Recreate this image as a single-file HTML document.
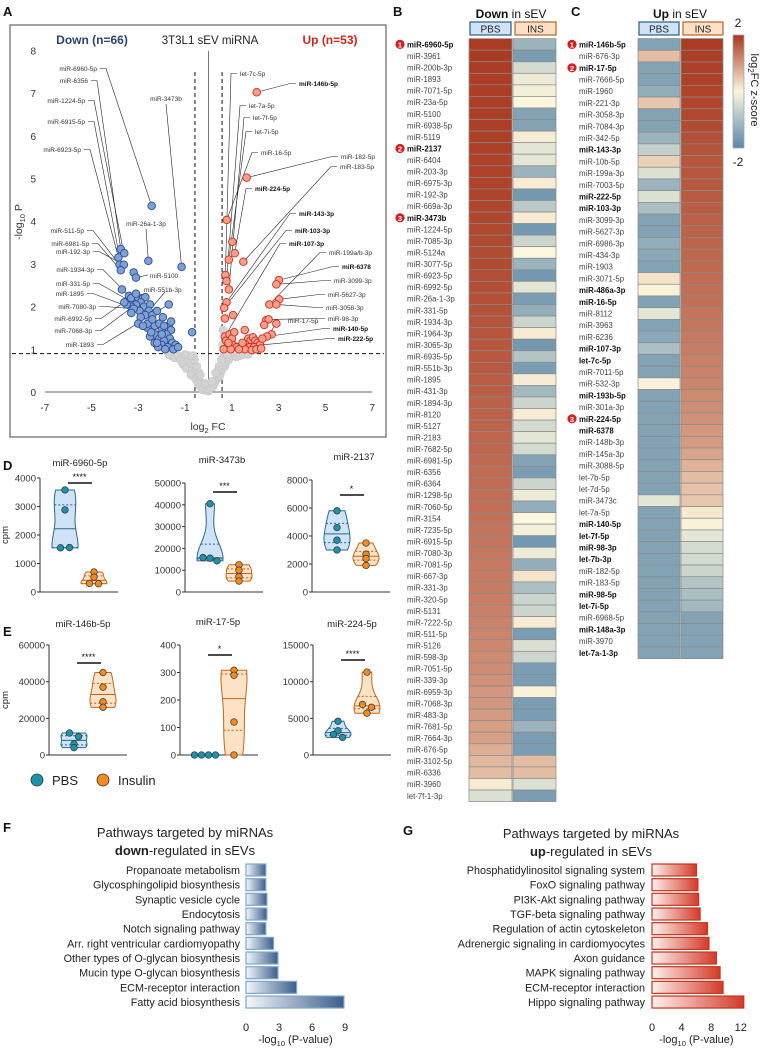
<!DOCTYPE html>
<html><head><meta charset="utf-8">
<style>
html,body{margin:0;padding:0;background:#fff;}
svg{display:block;font-family:"Liberation Sans",Arial,sans-serif;}
</style></head>
<body>
<svg id="fig" width="766" height="1050" viewBox="0 0 766 1050" xmlns="http://www.w3.org/2000/svg"></svg>
<script>
// ===== Volcano data (panel A) =====
const downPts = [[-2.43,4.36],[-1.15,2.93],[-2.57,3.07],[-3.75,3.35],[-3.6,3.25],[-3.85,3.15],[-3.8,2.98],[-3.62,2.98],[-3.75,2.85],[-3.2,2.8],[-3.1,2.68],[-3.7,2.4],[-3.4,2.25],[-3.3,2.2],[-3.0,2.2],[-2.8,2.2],[-2.7,2.22],[-2.9,2.1],[-3.1,2.05],[-3.3,2.0],[-2.75,2.0],[-2.5,2.05],[-2.55,1.9],[-2.95,1.9],[-3.2,1.95],[-3.3,1.85],[-2.7,1.8],[-2.4,1.8],[-2.9,1.75],[-1.7,2.05],[-3.0,1.6],[-2.6,1.5],[-2.3,1.55],[-2.1,1.6],[-1.7,1.55],[-1.6,1.45],[-2.0,1.45],[-2.3,1.35],[-1.8,1.35],[-2.5,1.3],[-2.1,1.25],[-1.65,1.25],[-1.9,1.2],[-2.3,1.15],[-2.0,1.1],[-1.55,1.15],[-1.75,1.05],[-1.4,1.1],[-2.15,1.05],[-1.85,1.0],[-1.5,1.0],[-0.7,1.4],[-2.6,1.6],[-2.8,1.55],[-2.4,1.7],[-2.2,1.9],[-1.95,1.75],[-3.5,2.05],[-3.6,2.1],[-2.0,1.35],[-1.6,1.65],[-2.2,1.15],[-1.3,1.05],[-2.45,1.4],[-1.9,1.55],[-3.1,2.3]];
const upPts = [[2.06,7.02],[1.63,5.02],[0.78,4.03],[1.02,3.52],[1.12,3.25],[0.87,3.1],[1.49,3.05],[0.72,2.74],[0.77,2.6],[0.87,2.4],[3.01,2.62],[2.9,2.52],[3.02,2.17],[2.6,2.05],[2.9,2.05],[0.77,2.1],[0.67,1.97],[1.05,1.8],[0.7,1.72],[2.46,1.68],[2.57,1.7],[2.9,1.6],[2.38,1.57],[1.55,1.45],[2.7,1.35],[2.5,1.3],[0.7,1.3],[0.75,1.2],[0.9,1.35],[1.0,1.25],[1.1,1.4],[1.05,1.1],[0.8,1.05],[1.2,1.05],[0.65,1.0],[1.7,1.25],[1.8,1.2],[1.9,1.28],[2.0,1.2],[2.1,1.15],[1.6,1.1],[1.75,1.05],[1.95,1.05],[2.2,1.1],[2.3,1.25],[1.55,1.0],[1.85,0.98],[2.05,1.0],[2.25,1.02],[0.95,1.0],[1.3,1.0],[0.85,1.15],[1.45,1.15]];
const nsPts = [[-1.6,0.85],[-1.45,0.8],[-1.3,0.85],[-1.2,0.75],[-1.0,0.8],[-0.9,0.7],[-1.1,0.65],[-0.8,0.6],[-0.95,0.55],[-0.7,0.5],[-0.6,0.45],[-0.75,0.4],[-0.5,0.35],[-0.55,0.3],[-0.4,0.28],[-0.45,0.2],[-0.3,0.18],[-0.35,0.12],[-0.2,0.1],[-0.25,0.05],[-0.1,0.04],[0.0,0.02],[-0.05,0.08],[0.05,0.06],[0.1,0.1],[0.2,0.12],[0.25,0.2],[0.3,0.25],[0.35,0.3],[0.45,0.35],[0.5,0.4],[0.55,0.5],[0.6,0.55],[0.7,0.6],[0.75,0.7],[0.85,0.75],[0.9,0.8],[1.0,0.85],[1.2,0.82],[1.35,0.85],[1.5,0.88],[0.65,0.85],[0.55,0.75],[0.45,0.6],[-0.5,0.6],[-0.6,0.75],[-0.65,0.85],[-0.4,0.45],[0.4,0.5],[-0.15,0.2],[0.15,0.25],[-1.7,0.88],[1.7,0.88],[0.6,1.1],[0.62,1.45],[-0.35,0.4],[0.3,0.45],[-0.8,0.85],[0.8,0.88],[-1.0,0.88]];
const volTicksX = [-7,-5,-3,-1,1,3,5,7];
const volTicksY = [0,1,2,3,4,5,6,7,8];
const volLabels = [
 ["miR-6960-5p",97,71,"L",-2.43,4.36,0],["miR-6356",88,83,"L",-3.75,3.35,0],["miR-1224-5p",85,103,"L",-3.62,3.25,0],["miR-6915-5p",85,124,"L",-3.8,3.15,0],["miR-6923-5p",81,152,"L",-3.85,3.15,0],
 ["miR-511-5p",84,233,"L",-3.8,2.98,0],["miR-6981-5p",89,246,"L",-3.75,2.85,0],["miR-192-3p",90,254,"L",-3.62,2.98,0],["miR-1934-3p",94,272,"L",-3.3,2.2,0],["miR-331-5p",90,286,"L",-3.1,2.05,0],["miR-1895",84,296,"L",-2.95,1.9,0],["miR-7080-3p",96,309,"L",-3.2,1.95,0],["miR-6992-5p",92,321,"L",-3.1,2.3,0],["miR-7068-3p",92,333,"L",-2.7,2.22,0],["miR-1893",94,347,"L",-1.7,2.05,0],
 ["let-7c-5p",240,76,"R",0.72,2.74,0],["miR-146b-5p",299,86,"R",2.06,7.02,1],["let-7a-5p",249,108,"R",0.77,2.6,0],["let-7f-5p",253,120,"R",0.87,2.4,0],["let-7i-5p",255,134,"R",0.87,3.1,0],["miR-16-5p",261,155,"R",0.78,4.03,0],["miR-182-5p",341,159,"R",1.63,5.02,0],["miR-183-5p",340,169,"R",1.49,3.05,0],["miR-224-5p",255,191,"R",1.12,3.25,1],["miR-143-3p",299,216,"R",0.77,2.1,1],["miR-103-3p",295,233,"R",0.67,1.97,1],["miR-107-3p",289,246,"R",0.7,1.3,1],["miR-199a/b-3p",329,255,"R",2.6,2.05,0],["miR-6378",342,269,"R",3.01,2.62,1],["miR-3099-3p",334,283,"R",2.9,2.52,0],["miR-5627-3p",328,297,"R",3.02,2.17,0],["miR-3058-3p",326,310,"R",2.9,2.05,0],["miR-98-3p",328,321,"R",2.57,1.7,0],["miR-140-5p",333,331,"R",2.5,1.3,1],["miR-222-5p",338,341,"R",2.2,1.1,1]
];
// ===== Heatmap B =====
const bNames = ["miR-6960-5p","miR-3961","miR-200b-3p","miR-1893","miR-7071-5p","miR-23a-5p","miR-5100","miR-6938-5p","miR-5119","miR-2137","miR-6404","miR-203-3p","miR-6975-3p","miR-192-3p","miR-669a-3p","miR-3473b","miR-1224-5p","miR-7085-3p","miR-5124a","miR-3077-5p","miR-6923-5p","miR-6992-5p","miR-26a-1-3p","miR-331-5p","miR-1934-3p","miR-1964-3p","miR-3065-3p","miR-6935-5p","miR-551b-3p","miR-1895","miR-431-3p","miR-1894-3p","miR-8120","miR-5127","miR-2183","miR-7682-5p","miR-6981-5p","miR-6356","miR-6364","miR-1298-5p","miR-7060-5p","miR-3154","miR-7235-5p","miR-6915-5p","miR-7080-3p","miR-7081-5p","miR-667-3p","miR-331-3p","miR-320-5p","miR-5131","miR-7222-5p","miR-511-5p","miR-5126","miR-598-3p","miR-7051-5p","miR-339-3p","miR-6959-3p","miR-7068-3p","miR-483-3p","miR-7681-5p","miR-7664-3p","miR-676-5p","miR-3102-5p","miR-6336","miR-3960","let-7f-1-3p"];
const bPBS = [1.95,1.95,1.94,1.93,1.93,1.92,1.92,1.91,1.9,1.9,1.89,1.88,1.87,1.86,1.85,1.84,1.82,1.8,1.79,1.78,1.76,1.75,1.74,1.72,1.7,1.68,1.66,1.65,1.63,1.6,1.58,1.56,1.55,1.53,1.52,1.5,1.48,1.46,1.44,1.42,1.4,1.38,1.36,1.34,1.32,1.3,1.3,1.28,1.26,1.22,1.2,1.18,1.15,1.12,1.1,1.05,1.0,0.98,0.95,0.92,0.9,0.75,0.65,0.6,0.1,-0.4];
const bINS = [-1.2,-1.6,-0.5,-0.2,-0.1,0.0,-1.5,-1.5,0.1,-0.3,-0.3,-1.2,0.1,-1.7,-0.8,0.1,-1.7,-0.6,0.0,-1.2,-1.7,-0.3,-1.6,-1.3,-0.6,0.1,-1.7,-0.9,-1.6,0.1,-1.1,-0.6,0.1,-0.5,-0.3,-0.5,-1.5,-1.6,-0.6,-0.2,-1.3,0.0,-0.1,-1.7,-0.2,-1.3,0.2,-1.0,-0.6,-0.6,0.1,-1.6,-0.4,-0.6,-1.6,-1.6,0.05,-1.6,-1.6,-1.2,-1.6,-1.6,0.6,0.6,-0.4,-1.6];
const bBold = {"miR-6960-5p":1,"miR-2137":2,"miR-3473b":3};
// ===== Heatmap C =====
const cNames = ["miR-146b-5p","miR-676-3p","miR-17-5p","miR-7666-5p","miR-1960","miR-221-3p","miR-3058-3p","miR-7084-3p","miR-342-5p","miR-143-3p","miR-10b-5p","miR-199a-3p","miR-7003-5p","miR-222-5p","miR-103-3p","miR-3099-3p","miR-5627-3p","miR-6986-3p","miR-434-3p","miR-1903","miR-3071-5p","miR-486a-3p","miR-16-5p","miR-8112","miR-3963","miR-6236","miR-107-3p","let-7c-5p","miR-7011-5p","miR-532-3p","miR-193b-5p","miR-301a-3p","miR-224-5p","miR-6378","miR-148b-3p","miR-145a-3p","miR-3088-5p","let-7b-5p","let-7d-5p","miR-3473c","let-7a-5p","miR-140-5p","let-7f-5p","miR-98-3p","let-7b-3p","miR-182-5p","miR-183-5p","miR-98-5p","let-7i-5p","miR-6968-5p","miR-148a-3p","miR-3970","let-7a-1-3p"];
const cPBS = [-1.5,0.6,-1.5,-1.5,-1.3,0.5,-1.5,-1.5,-1.2,-0.7,0.4,-0.4,-1.2,-0.4,-1.0,-1.5,-1.5,-1.3,-1.4,-1.5,0.2,0.05,-1.5,-0.3,-1.5,-1.4,-1.0,-1.5,-1.5,0.05,-1.5,-1.5,-1.5,-1.5,-1.5,-1.5,-1.5,-1.5,-1.5,-0.3,-1.5,-1.5,-1.5,-1.5,-1.5,-1.5,-1.5,-1.5,-1.5,-1.5,-1.5,-1.5,-1.5];
const cINS = [1.95,1.92,1.9,1.88,1.86,1.84,1.82,1.78,1.74,1.7,1.68,1.66,1.64,1.62,1.6,1.57,1.54,1.52,1.5,1.47,1.44,1.42,1.4,1.36,1.33,1.3,1.27,1.24,1.2,1.17,1.13,1.1,1.05,1.0,0.95,0.85,0.7,0.6,0.55,0.5,0.15,0.05,-0.3,-0.5,-0.5,-0.6,-0.9,-1.0,-1.1,-1.5,-1.5,-1.5,-1.5];
const cBold = {"miR-146b-5p":1,"miR-17-5p":2,"miR-224-5p":3};
const cBoldNames = ["miR-146b-5p","miR-17-5p","miR-143-3p","miR-222-5p","miR-103-3p","miR-486a-3p","miR-16-5p","miR-107-3p","let-7c-5p","miR-193b-5p","miR-224-5p","miR-6378","miR-140-5p","let-7f-5p","miR-98-3p","let-7b-3p","miR-98-5p","let-7i-5p","miR-148a-3p","let-7a-1-3p"];
const bBoldNames = ["miR-6960-5p","miR-2137","miR-3473b"];
// ===== Violin data (D/E) =====
const vTitles = ["miR-6960-5p","miR-3473b","miR-2137","miR-146b-5p","miR-17-5p","miR-224-5p"];
const vPBS = [[3580,2880,1550,1560],[40500,15800,15500,14300],[5800,4600,3700,3000],[12000,10000,6000,4000],[0,0,0,0],[4600,3300,2800,2400]];
const vINS = [[700,520,300,290],[12500,10000,7000,5000],[3500,2700,2400,1900],[45000,37000,29000,26000],[308,290,120,0],[11300,6900,6500,5700]];
const vMax = [4000,50000,8000,60000,400,15000];
const vTicks = [[0,1000,2000,3000,4000],[0,10000,20000,30000,40000,50000],[0,2000,4000,6000,8000],[0,20000,40000,60000],[0,100,200,300,400],[0,5000,10000,15000]];
const vStars = ["****","***","*","****","*","****"];
// ===== Pathway bars (F/G) =====
const fCats = ["Propanoate metabolism","Glycosphingolipid biosynthesis","Synaptic vesicle cycle","Endocytosis","Notch signaling pathway","Arr. right ventricular cardiomyopathy","Other types of O-glycan biosynthesis","Mucin type O-glycan biosynthesis","ECM-receptor interaction","Fatty acid biosynthesis"];
const fVals = [1.8,1.8,1.9,1.9,1.8,2.5,2.9,2.9,4.6,8.9];
const fTicks = [0,3,6,9];
const gCats = ["Phosphatidylinositol signaling system","FoxO signaling pathway","PI3K-Akt signaling pathway","TGF-beta signaling pathway","Regulation of actin cytoskeleton","Adrenergic signaling in cardiomyocytes","Axon guidance","MAPK signaling pathway","ECM-receptor interaction","Hippo signaling pathway"];
const gVals = [6.0,6.2,6.3,6.5,7.5,7.7,8.7,9.2,9.6,12.4];
const gTicks = [0,4,8,12];

const NS="http://www.w3.org/2000/svg";
const svg=document.getElementById('fig');
function el(tag,attrs,parent){const e=document.createElementNS(NS,tag);for(const k in attrs)e.setAttribute(k,attrs[k]);(parent||svg).appendChild(e);return e;}
function txt(s,attrs,parent){const e=el('text',attrs,parent);e.textContent=s;return e;}

const defs=el('defs',{});
const gb=el('linearGradient',{id:'gBlue',x1:'0',x2:'1',y1:'0',y2:'0'},defs);
el('stop',{offset:'0','stop-color':'#f4f7fc'},gb);el('stop',{offset:'1','stop-color':'#3c5f8c'},gb);
const gr=el('linearGradient',{id:'gRed',x1:'0',x2:'1',y1:'0',y2:'0'},defs);
el('stop',{offset:'0','stop-color':'#fdf1ee'},gr);el('stop',{offset:'1','stop-color':'#d43a28'},gr);
const gc=el('linearGradient',{id:'gCbar',x1:'0',x2:'0',y1:'0',y2:'1'},defs);
el('stop',{offset:'0','stop-color':'#a8371e'},gc);el('stop',{offset:'0.5','stop-color':'#fbf6dd'},gc);el('stop',{offset:'1','stop-color':'#5b87a8'},gc);

[["A",3,16],["B",393,16],["C",571,16],["D",3,470],["E",3,636],["F",3,832],["G",403,835]].forEach(l=>{
 const t=txt(l[0],{x:l[1],y:l[2],'font-size':13,'font-weight':'bold',fill:'#111'});
 
 
});

// ===== Panel A volcano =====
const gA=el('g',{});


el('rect',{x:10,y:25,width:376,height:412,fill:'none',stroke:'#444','stroke-width':1},gA);
const vx=fc=>208.5+fc*23.4, vy=p=>392-p*42.7;
el('line',{x1:45,x2:372,y1:392,y2:392,stroke:'#666','stroke-width':1},gA);
el('line',{x1:208.5,x2:208.5,y1:51,y2:392,stroke:'#555','stroke-width':0.8},gA);
el('line',{x1:vx(-0.58),x2:vx(-0.58),y1:72,y2:400,stroke:'#111','stroke-width':1,'stroke-dasharray':'4,3'},gA);
el('line',{x1:vx(0.58),x2:vx(0.58),y1:72,y2:400,stroke:'#111','stroke-width':1,'stroke-dasharray':'4,3'},gA);
el('line',{x1:12,x2:384,y1:vy(0.9),y2:vy(0.9),stroke:'#111','stroke-width':1,'stroke-dasharray':'4,3'},gA);
volTicksX.forEach(v=>{const t=txt(String(v),{x:vx(v),y:411,'font-size':10,'text-anchor':'middle',fill:'#333'},gA);});
volTicksY.forEach(v=>{const t=txt(String(v),{x:36,y:vy(v)+4,'font-size':10,'text-anchor':'end',fill:'#333'},gA);});
const xt=txt('',{x:208,y:430,'font-size':10.5,'text-anchor':'middle',fill:'#333'},gA);xt.innerHTML='log<tspan font-size="7.5" dy="3">2</tspan><tspan dy="-3"> FC</tspan>';

const yt=txt('',{x:0,y:0,'font-size':10.5,'text-anchor':'middle',fill:'#333',transform:'translate(22,222) rotate(-90)'},gA);yt.innerHTML='-log<tspan font-size="7.5" dy="3">10</tspan><tspan dy="-3"> P</tspan>';

let t1=txt('Down (n=66)',{x:92,y:44,'font-size':12,'font-weight':'bold',fill:'#2e4372','text-anchor':'middle'},gA);
t1=txt('3T3L1 sEV miRNA',{x:210,y:44,'font-size':11.5,fill:'#222','text-anchor':'middle'},gA);
t1=txt('Up (n=53)',{x:330,y:44,'font-size':12,'font-weight':'bold',fill:'#d0251a','text-anchor':'middle'},gA);
volLabels.forEach(L=>{
 const tx=vx(L[4]),ty=vy(L[5]);
 const y=L[2]-2.5;
 if(L[3]==="L"){el('polyline',{points:`${L[1]+3},${y} ${L[1]+9},${y} ${tx},${ty}`,fill:'none',stroke:'#222','stroke-width':0.6},gA);}
 else{el('polyline',{points:`${L[1]-3},${y} ${L[1]-9},${y} ${tx},${ty}`,fill:'none',stroke:'#222','stroke-width':0.6},gA);}
});
[["miR-3473b",166,101,-1.15,2.93,'middle'],["miR-26a-1-3p",146,226,-2.57,3.07,'middle']].forEach(L=>{
 el('line',{x1:L[1],y1:L[2]+3,x2:vx(L[3]),y2:vy(L[4]),stroke:'#222','stroke-width':0.6},gA);
 const t=txt(L[0],{x:L[1],y:L[2],'font-size':6.5,'text-anchor':L[5],fill:'#333'},gA);
});
el('line',{x1:148,y1:275,x2:vx(-3.1),y2:vy(2.68),stroke:'#222','stroke-width':0.6},gA);
t1=txt('miR-5100',{x:150,y:278,'font-size':6.5,fill:'#333'},gA);
el('line',{x1:165,y1:292,x2:vx(-3.0),y2:vy(1.6),stroke:'#222','stroke-width':0.6},gA);
t1=txt('miR-551b-3p',{x:144,y:292,'font-size':6.5,fill:'#333'},gA);
el('line',{x1:vx(2.5),y1:vy(1.3),x2:vx(2.9),y2:vy(1.6),stroke:'#222','stroke-width':0.6},gA);
t1=txt('miR-17-5p',{x:288,y:323,'font-size':6.5,fill:'#333'},gA);
nsPts.forEach(p=>{const c=el('circle',{cx:vx(p[0]),cy:vy(p[1]),r:4,fill:'#d3d3d3',stroke:'#c4c4c4','stroke-width':0.6},gA);});
downPts.forEach(p=>{const c=el('circle',{cx:vx(p[0]),cy:vy(p[1]),r:3.8,fill:'#7f9fd8',stroke:'#2f4f8c','stroke-width':0.9},gA);});
upPts.forEach(p=>{const c=el('circle',{cx:vx(p[0]),cy:vy(p[1]),r:3.8,fill:'#f2a08c',stroke:'#d42a1a','stroke-width':0.9},gA);});
volLabels.forEach(L=>{
 const t=txt(L[0],{x:L[1],y:L[2],'font-size':6.5,'text-anchor':L[3]==="L"?'end':'start',fill:L[6]?'#111':'#333','font-weight':L[6]?'bold':'normal'},gA);
 
 
});

// ===== Heatmaps =====
function lerp(a,b,t){return a+(b-a)*t;}
function zcol(z){
 const lo=[91,135,168],mid=[251,246,221],hi=[168,55,30];
 const t=Math.max(-1,Math.min(1,z/2));
 const c=t<0?lo.map((v,i)=>lerp(mid[i],v,-t)):mid.map((v,i)=>lerp(v,hi[i],t));
 return `rgb(${c.map(Math.round).join(',')})`;
}
function heatmap(names,pbs,ins,bold,boldList,labelX,x0,cw,cx,head1,badgeX,nameKey,rh){
 const g=el('g',{});
 
 
 const top=44.4-rh/2;
 const h=txt('',{x:cx,y:18,'font-size':12,'text-anchor':'middle',fill:'#111'},g);
 h.innerHTML=`<tspan font-weight="bold">${head1}</tspan> in sEV`;
 
 [["PBS",x0,'#cfe2f6','#2b5f7f'],["INS",x0+cw+2,'#fde0c6','#b4632a']].forEach(b=>{
  const r=el('rect',{x:b[1]+1,y:22,width:cw-2,height:13,fill:b[2],stroke:b[3],'stroke-width':1.2},g);
  
  txt(b[0],{x:b[1]+cw/2,y:32.5,'font-size':10,'text-anchor':'middle',fill:'#222'},g);
 });
 names.forEach((n,i)=>{
  const y=top+i*rh;
  const a=el('rect',{x:x0,y:y,width:cw,height:rh,fill:zcol(pbs[i]),stroke:'#8a8a8a','stroke-width':0.7},g);
  
  const b=el('rect',{x:x0+cw+1,y:y,width:cw,height:rh,fill:zcol(ins[i]),stroke:'#8a8a8a','stroke-width':0.7},g);
  
  const isB=boldList.indexOf(n)>=0;
  const t=txt(n,{x:labelX,y:y+rh/2+3,'font-size':7.8,fill:isB?'#111':'#444','font-weight':isB?'bold':'normal'},g);
  
  if(bold[n]){
   const c=el('circle',{cx:badgeX,cy:y+rh/2,r:4.6,fill:'#d21f1f'},g);
   
   txt(String(bold[n]),{x:badgeX,y:y+rh/2+3,'font-size':7.5,'font-weight':'bold','text-anchor':'middle',fill:'#fff'},g);
  }
 });
}
heatmap(bNames,bPBS,bINS,bBold,bBoldNames,407,469,43,511,'Down',400,'down',11.56);
heatmap(cNames,cPBS,cINS,cBold,cBoldNames,579,638,42,680,'Up',572,'up',11.7);
const cb=el('rect',{x:733,y:35,width:11,height:113,fill:'url(#gCbar)',stroke:'#9ab','stroke-width':0.8});

txt('2',{x:738,y:27,'font-size':12,'text-anchor':'middle',fill:'#222'});
txt('-2',{x:738,y:166,'font-size':12,'text-anchor':'middle',fill:'#222'});
const cbt=txt('',{x:0,y:0,'font-size':11,'text-anchor':'middle',fill:'#222',transform:'translate(751,90) rotate(90)'});
cbt.innerHTML='log<tspan font-size="8" dy="3">2</tspan><tspan dy="-3">FC z-score</tspan>';


// ===== Violin plots =====
const vLayout=[[40,592,478,80,466,483],[185,592,483,222,463,492],[312,592,480,354,460,495],[49,755,645,83,627,663],[180,755,645,218,625,655],[313,755,645,352,627,660]];
function violin(g,vals,cx,sy,fill,stroke,ptFill){
 const s=[...vals].sort((a,b)=>a-b);
 const mn=s[0],mx=s[s.length-1];
 const rng=Math.max(mx-mn,1e-9);
 const bw=rng*0.3;
 const ys=[];for(let k=0;k<=30;k++)ys.push(mn+rng*k/30);
 const d=ys.map(y=>vals.reduce((a,v)=>a+Math.exp(-0.5*((y-v)/bw)**2),0));
 const dm=Math.max(...d);
 const w=d.map(v=>v/dm*13);
 if(mx-mn>0){
 let path='M'+ys.map((y,k)=>`${cx-w[k]},${sy(y)}`).join(' L')+' L'+ys.slice().reverse().map((y,k)=>`${cx+w[30-k]},${sy(y)}`).join(' L')+'Z';
 const p=el('path',{d:path,fill:fill,stroke:stroke,'stroke-width':1},g);
 
 const q=(f)=>{const i=f*(s.length-1),lo=Math.floor(i),hi=Math.ceil(i);return s[lo]+(s[hi]-s[lo])*(i-lo);};
 [[0.5,'none'],[0.25,'2,2'],[0.75,'2,2']].forEach(qq=>{
  const v=q(qq[0]);const k=Math.round((v-mn)/rng*30);
  el('line',{x1:cx-w[k],x2:cx+w[k],y1:sy(v),y2:sy(v),stroke:stroke,'stroke-width':1,'stroke-dasharray':qq[1]},g);
 });
 }
 const counts={};
 vals.forEach(v=>{
  const key=Math.round(sy(v)/5);counts[key]=(counts[key]||0)+1;
  const same=vals.filter(u=>Math.round(sy(u)/5)===key).length;
  const off=same>1?(counts[key]-1-(same-1)/2)*(same>2?7:9):0;
  const c=el('circle',{cx:cx+off,cy:sy(v),r:3.3,fill:ptFill,stroke:'#333','stroke-width':0.7},g);
  
 });
}
vTitles.forEach((t,i)=>{
 const L=vLayout[i];const ox=L[0],y0=L[1],yt=L[2];
 const g=el('g',{});
 
 
 const sy=v=>y0-(v/vMax[i])*(y0-yt);
 el('line',{x1:ox,x2:ox,y1:yt,y2:y0,stroke:'#333','stroke-width':1},g);
 el('line',{x1:ox,x2:ox+78,y1:y0,y2:y0,stroke:'#333','stroke-width':1},g);
 vTicks[i].forEach(v=>{
  el('line',{x1:ox-3,x2:ox,y1:sy(v),y2:sy(v),stroke:'#333','stroke-width':1},g);
  const tt=txt(String(v),{x:ox-4,y:sy(v)+3.5,'font-size':9.5,'text-anchor':'end',fill:'#333'},g);
  
 });
 const ti=txt(t,{x:L[3],y:L[4],'font-size':9.5,'text-anchor':'middle',fill:'#222'},g);
 
 const px=ox+25,ix=ox+54;
 el('line',{x1:px+3,x2:ix-2,y1:L[5],y2:L[5],stroke:'#111','stroke-width':1.5},g);
 txt(vStars[i],{x:(px+ix)/2,y:L[5]-3,'font-size':9,'text-anchor':'middle',fill:'#111'},g);
 violin(g,vPBS[i],px,sy,'#cfe2f7','#2a6a8a','#1c93ab');
 violin(g,vINS[i],ix,sy,'#fde2c6','#c0661f','#f28a1e');
});
[[8,535],[8,700]].forEach(p=>{const c=txt('cpm',{x:0,y:0,'font-size':9.5,'text-anchor':'middle',fill:'#222',transform:`translate(${p[0]},${p[1]}) rotate(-90)`});});
const lg=el('g',{});
el('circle',{cx:37,cy:780,r:6,fill:'#1c93ab',stroke:'#333','stroke-width':0.8},lg);
txt('PBS',{x:52,y:785,'font-size':13,fill:'#222'},lg);
el('circle',{cx:103,cy:780,r:6,fill:'#f28a1e',stroke:'#333','stroke-width':0.8},lg);
txt('Insulin',{x:118,y:785,'font-size':13,fill:'#222'},lg);

// ===== Pathway bar charts =====
function barChart(cats,vals,ticks,x0,scale,grad,stroke,labelX,titleX,titleY,titleBold,key){
 const g=el('g',{});
 
 
 const t1=txt('Pathways targeted by miRNAs',{x:titleX,y:titleY,'font-size':13,'text-anchor':'middle',fill:'#222'},g);
 
 const t2=txt('',{x:titleX,y:titleY+18,'font-size':13,'text-anchor':'middle',fill:'#222'},g);
 t2.innerHTML=`<tspan font-weight="bold">${titleBold}</tspan>-regulated in sEVs`;
 const c0=870, rh=14.67;
 cats.forEach((c,i)=>{
  const y=c0+i*rh;
  const r=el('rect',{x:x0,y:y-6,width:vals[i]*scale,height:12,fill:grad,stroke:stroke,'stroke-width':1.2},g);
  
  const t=txt(c,{x:labelX,y:y+4,'font-size':10.8,'text-anchor':'end',fill:'#222'},g);
  
 });
 ticks.forEach(v=>{const t=txt(String(v),{x:x0+v*scale,y:1031,'font-size':11,'text-anchor':'middle',fill:'#222'},g);});
 const at=txt('',{x:x0+ticks[ticks.length-1]*scale/2,y:1043,'font-size':11,'text-anchor':'middle',fill:'#222'},g);
 at.innerHTML='-log<tspan font-size="7.5" dy="3">10</tspan><tspan dy="-3"> (P-value)</tspan>';
 
}
barChart(fCats,fVals,fTicks,246,11,'url(#gBlue)','#7fa6c8',240,185,837,'down','down');
barChart(gCats,gVals,gTicks,652,7.4,'url(#gRed)','#c8331f',645,591,838,'up','up');
</script>
</body></html>
